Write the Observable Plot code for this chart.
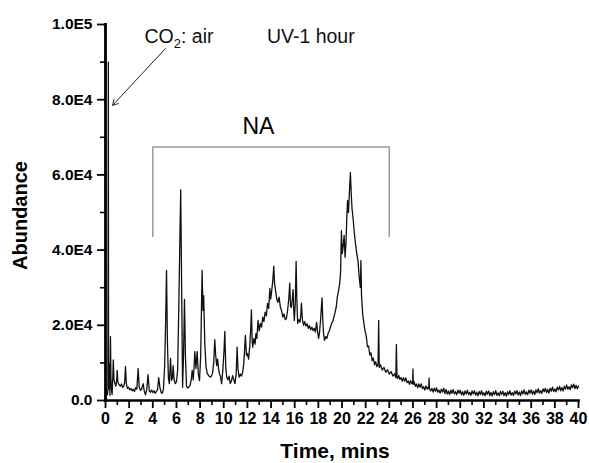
<!DOCTYPE html>
<html><head><meta charset="utf-8">
<script src="https://cdn.jsdelivr.net/npm/d3@7"></script>
<script src="https://cdn.jsdelivr.net/npm/@observablehq/plot@0.6"></script>
<style>body{margin:0;background:#fff}</style>
</head><body><div id="chart"></div>
<script>
const time = [0.00,0.05,0.10,0.15,0.20,0.24,0.26,0.30,0.34,0.38,0.42,0.46,0.52,0.56,0.62,0.66,0.72,0.80,0.88,0.95,0.99,1.05,1.15,1.25,1.35,1.45,1.55,1.62,1.69,1.76,1.85,1.95,2.05,2.15,2.25,2.35,2.45,2.55,2.65,2.76,2.85,2.95,3.05,3.18,3.28,3.38,3.48,3.60,3.70,3.80,3.90,4.00,4.10,4.20,4.30,4.40,4.50,4.60,4.70,4.80,4.90,5.00,5.08,5.16,5.24,5.32,5.40,5.50,5.58,5.66,5.72,5.80,5.90,6.00,6.10,6.20,6.30,6.36,6.44,6.52,6.60,6.68,6.76,6.85,6.95,7.05,7.15,7.25,7.33,7.42,7.50,7.55,7.65,7.75,7.85,7.95,8.05,8.17,8.24,8.30,8.40,8.50,8.60,8.75,8.90,9.05,9.15,9.24,9.32,9.40,9.48,9.56,9.64,9.72,9.82,9.92,10.02,10.09,10.17,10.25,10.35,10.45,10.55,10.65,10.75,10.85,10.95,11.05,11.13,11.20,11.30,11.40,11.50,11.60,11.70,11.77,11.83,11.92,12.00,12.10,12.20,12.28,12.34,12.40,12.45,12.55,12.65,12.72,12.80,12.90,13.00,13.10,13.20,13.30,13.40,13.50,13.60,13.70,13.80,13.90,13.97,14.05,14.15,14.23,14.30,14.38,14.48,14.58,14.68,14.78,14.88,15.00,15.10,15.20,15.30,15.40,15.50,15.58,15.65,15.72,15.80,15.86,15.92,15.97,16.05,16.12,16.18,16.25,16.35,16.45,16.52,16.57,16.65,16.75,16.85,16.95,17.05,17.15,17.25,17.35,17.45,17.55,17.65,17.75,17.85,17.95,18.02,18.10,18.20,18.31,18.38,18.45,18.52,18.62,18.72,18.82,18.92,19.02,19.12,19.22,19.32,19.42,19.52,19.60,19.70,19.80,19.88,19.95,20.02,20.10,20.18,20.26,20.34,20.40,20.47,20.55,20.62,20.71,20.78,20.85,20.95,21.05,21.15,21.25,21.35,21.45,21.55,21.60,21.65,21.75,21.85,21.95,22.05,22.15,22.25,22.35,22.45,22.55,22.65,22.75,22.85,22.95,23.05,23.10,23.15,23.25,23.40,23.55,23.70,23.85,24.00,24.15,24.30,24.45,24.55,24.60,24.65,
24.7,24.8,24.9,25.0,25.1,25.2,25.3,25.4,25.5,25.6,25.7,25.8,25.9,25.97,26.0,26.03,26.1,26.2,26.3,26.4,26.5,26.6,26.7,26.8,26.9,27.0,27.1,27.2,27.3,27.33,27.36,27.4,27.5,27.6,27.7,27.8,27.9,28.0,28.1,28.2,28.3,28.4,28.5,28.6,28.7,
28.8,28.9,29.0,29.1,29.2,29.3,29.4,29.5,29.6,29.7,29.8,29.9,30.0,30.1,30.2,30.3,30.4,30.5,30.6,30.7,30.8,30.9,31.0,31.1,31.2,31.3,31.4,31.5,31.6,31.7,31.8,31.9,32.0,32.1,32.2,32.3,32.4,32.5,32.6,32.7,32.8,32.9,33.0,33.1,33.2,33.3,33.4,33.5,33.6,33.7,33.8,33.9,34.0,34.1,34.2,34.3,34.4,34.5,34.6,34.7,34.8,34.9,35.0,35.1,35.2,35.3,35.4,35.5,35.6,35.7,35.8,35.9,36.0,36.1,36.2,36.3,36.4,36.5,36.6,36.7,36.8,36.9,37.0,37.1,37.2,37.3,37.4,37.5,37.6,37.7,37.8,37.9,38.0,38.1,38.2,38.3,38.4,38.5,38.6,38.7,38.8,38.9,39.0,39.1,39.2,39.3,39.4,39.5,39.6,39.7,39.8,39.9,40.0];
const abundance = [2800,3300,2200,1500,2500,90000,3000,9800,7500,1400,17000,6000,2500,1600,6500,10800,5500,4500,3800,5500,8000,4800,4200,3800,4400,3500,3800,4800,9100,4500,3200,3500,2800,3200,2600,3000,2400,3400,3000,8500,3500,2700,3000,4500,2500,1500,2800,6900,2600,2200,2800,2100,2600,1900,2400,2800,6100,3500,2200,1900,3000,9000,20000,34600,15000,6000,4500,11200,5300,6000,9300,5500,4500,5000,8000,25000,45000,56000,30000,3500,12000,26900,12000,3800,3300,3600,4000,5500,8000,5500,9500,13000,8500,13000,7000,5300,12000,34600,24000,27900,15000,9000,7200,6500,6200,7200,10000,16200,12000,9300,11000,8500,7000,6500,4500,8000,13000,18400,9000,6200,5500,6500,4500,5200,6600,5500,4500,7000,14200,8500,6200,7000,6500,7500,10000,14000,17300,12000,12500,11000,14500,19000,24100,16000,14200,16500,15000,17800,16500,21300,18500,20500,19500,22200,21000,23500,22500,25800,24500,29800,27000,29000,32000,35700,31000,29300,27000,26100,27500,25000,24000,22200,23000,21500,21800,24000,27000,31200,25000,24800,27000,29500,24000,21300,26000,37000,27000,20500,21500,20800,23000,25900,21500,20000,21000,19800,20400,19200,19900,18800,19500,18600,19200,18200,20800,18000,16500,18000,22000,27300,21000,17500,16000,17000,16500,17800,18500,19500,20500,21000,22200,23500,25000,27500,29000,31000,34000,45200,39100,41000,43900,38100,42000,48000,53200,50000,55000,60600,55000,51000,48000,44300,41500,39000,37200,33000,30100,37200,28000,23000,20500,18500,17200,14300,14500,12100,12700,10600,11300,9500,10300,9000,9600,21300,8800,9500,8100,8800,7500,8200,7000,7700,6500,7100,6100,14900,6300,
5825,6650,5600,6125,5085,6070,5180,6015,4750,5210,4320,5305,4415,4600,8400,4300,4990,3755,4395,3385,4400,3540,4405,3170,3660,2800,3855,3035,3640,3200,6000,3000,2525,3205,2235,3290,2470,3375,2200,2750,1950,3025,2225,3300,1825,
2940,1730,2520,1550,2730,1920,2950,1740,2360,1550,2740,1930,2740,1530,2320,1350,2540,1730,2760,1550,2180,1370,2560,1750,2620,1410,2200,1230,2420,1610,2640,1430,2060,1260,2455,1655,2530,1330,2125,1165,2360,1560,2595,1395,2030,1230,2425,1625,2500,1300,2095,1135,2330,1548,2605,1423,2080,1298,2515,1733,2630,1448,2265,1323,2540,1758,2815,1633,2290,1508,2725,1943,2840,1675,2510,1585,2820,2055,3130,1965,2640,1875,3110,2345,3260,2095,2930,2005,3240,2475,3550,2385,3060,2310,3560,2810,3740,2590,3440,2530,3780,3030,4120,2970,3660,2910,4160,3410,4340,3190,4040,3130,3800];

const yTicks = [0, 20000, 40000, 60000, 80000, 100000];
const yTickLabels = ["0.0", "2.0E4", "4.0E4", "6.0E4", "8.0E4", "1.0E5"];
const yMinorTicks = [10000, 30000, 50000, 70000, 90000];
const xTicks = [0,2,4,6,8,10,12,14,16,18,20,22,24,26,28,30,32,34,36,38,40];
const xMinorTicks = [1,3,5,7,9,11,13,15,17,19,21,23,25,27,29,31,33,35,37,39];

const bracketTime = [4, 4, 24, 24];
const bracketAbundance = [43600, 67400, 67400, 43600];
const arrowStart = [5.07, 93600];
const arrowEnd = [0.6, 78500];
const noteText = ["CO2: air", "UV-1 hour"];
const noteTime = [3.3, 13.65];
const noteAbundance = [96700, 96700];
const bracketLabel = "NA";
const bracketLabelPos = [12.93, 72900];
const xTitle = "Time, mins";
const yTitle = "Abundance";

const font = "Liberation Sans, Arial, Helvetica, sans-serif";
const trace = time.map((t, i) => ({t, a: abundance[i]}));
const bracket = bracketTime.map((t, i) => ({t, a: bracketAbundance[i]}));
const notes = noteText.map((s, i) => ({s, t: noteTime[i], a: noteAbundance[i]}));

const plot = Plot.plot({
  width: 589, height: 463,
  marginLeft: 105, marginRight: 11, marginTop: 24, marginBottom: 63,
  x: {domain: [0, 40]},
  y: {domain: [0, 100000]},
  style: {fontFamily: font, background: "white", color: "#000"},
  marks: [
    Plot.axisY(yMinorTicks, {tickSize: 5, tickFormat: () => "", label: null, strokeWidth: 1.6, stroke: "#000"}),
    Plot.axisY(yTicks, {tickSize: 8, tickPadding: 5, tickFormat: d => yTickLabels[yTicks.indexOf(d)], label: null, fontSize: 15.5, fontWeight: "bold", strokeWidth: 1.8, stroke: "#000", fill: "#000"}),
    Plot.axisX(xMinorTicks, {tickSize: 5, tickFormat: () => "", label: null, strokeWidth: 1.6, stroke: "#000"}),
    Plot.axisX(xTicks, {tickSize: 8, tickPadding: 4, label: null, fontSize: 16, fontWeight: "bold", strokeWidth: 1.8, stroke: "#000", fill: "#000"}),
    Plot.line(bracket, {x: "t", y: "a", stroke: "#9a9a9a", strokeWidth: 1.5}),
    Plot.line(trace, {x: "t", y: "a", stroke: "#111", strokeWidth: 1.3}),
    Plot.arrow([{x1: arrowStart[0], y1: arrowStart[1], x2: arrowEnd[0], y2: arrowEnd[1]}], {x1: "x1", y1: "y1", x2: "x2", y2: "y2", stroke: "#222", strokeWidth: 1, headLength: 9}),
    Plot.text(notes, {x: "t", y: "a", text: "s", textAnchor: "start", fontSize: 19.5, fill: "#111"}),
    Plot.text([bracketLabel], {x: () => bracketLabelPos[0], y: () => bracketLabelPos[1]}),
    Plot.frame({anchor: "left", stroke: "#000", strokeWidth: 2.8}),
    Plot.frame({anchor: "bottom", stroke: "#000", strokeWidth: 2.6}),
    Plot.text([yTitle], {frameAnchor: "left", textAnchor: "middle", lineAnchor: "middle", dx: -85, dy: 3, rotate: -90, fontSize: 20, fontWeight: "bold", fill: "#000"}),
    Plot.text([xTitle], {frameAnchor: "bottom", textAnchor: "middle", lineAnchor: "middle", dx: -7, dy: 51, fontSize: 21, fontWeight: "bold", fill: "#000"})
  ]
});
document.getElementById("chart").appendChild(plot);

d3.select(plot).selectAll("text").each(function () {
  if (this.textContent === bracketLabel) { this.setAttribute("font-size", "23"); }
  if (this.textContent === "CO2: air") {
    this.innerHTML = 'CO<tspan dy="5" font-size="13">2</tspan><tspan dy="-5">: air</tspan>';
  }
});
</script>
</body></html>
